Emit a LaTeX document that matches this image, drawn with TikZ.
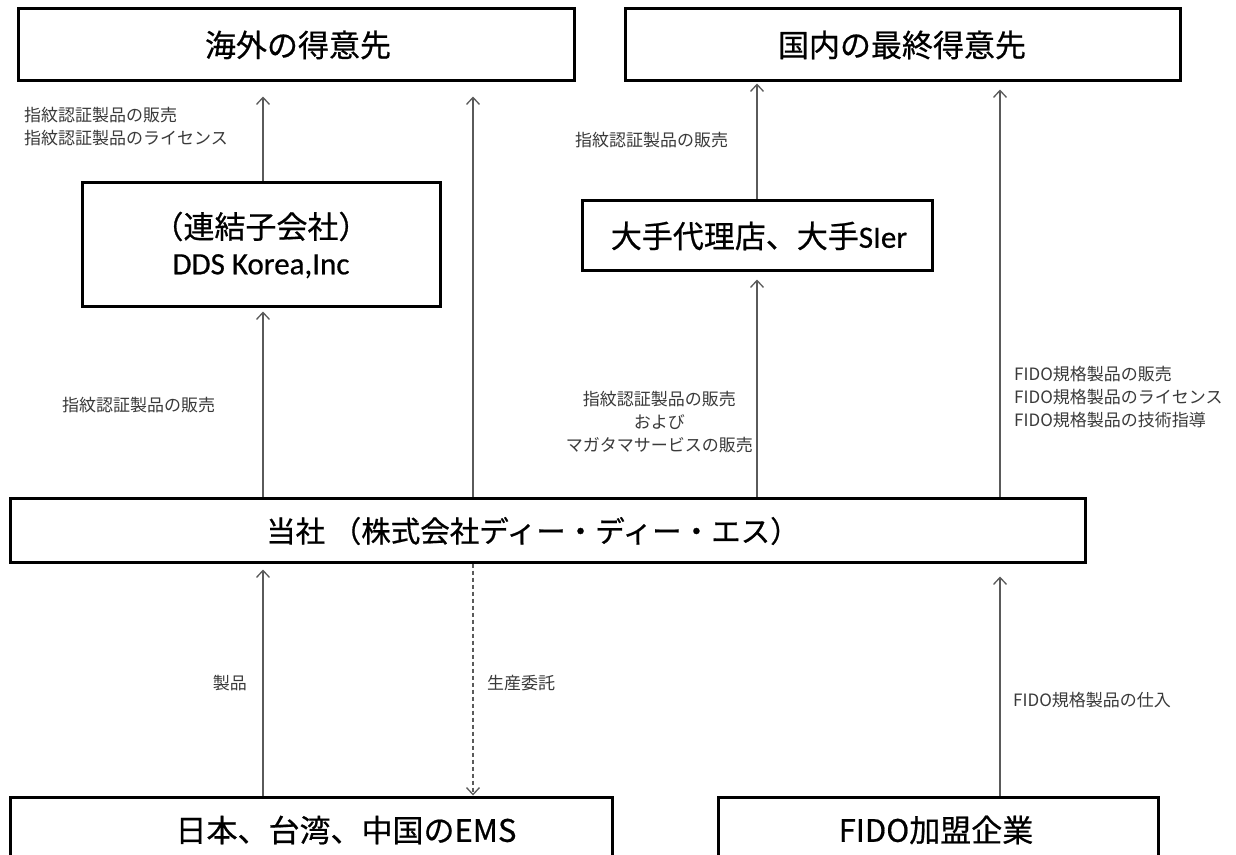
\documentclass[tikz,border=0pt]{standalone}
\usepackage{fontspec}
\setmainfont{Noto Sans CJK JP}
\newfontfamily\bigf{Noto Sans CJK JP}[FakeBold=0.6]
\newfontfamily\latf{Carlito}[FakeBold=0.6]
\usetikzlibrary{arrows.meta}
\definecolor{labelgray}{HTML}{3A3A3A}
\definecolor{linegray}{HTML}{5A5A5A}
\begin{document}
\begin{tikzpicture}[x=1pt,y=-1pt,
  box/.style={draw=black, line width=3pt, inner sep=0pt, fill=white},
  big/.style={font=\bigf\fontsize{31}{38}\selectfont, inner sep=0pt},
  lbl/.style={font=\fontsize{17}{23}\selectfont, text=labelgray, inner sep=0pt},
  arr/.style={draw=linegray, line width=1.3pt, -{Straight Barb[length=7pt,width=13pt,line width=1.3pt]}},
]
\useasboundingbox (0,0) rectangle (1236,854);
\clip (0,0) rectangle (1236,854);
\fill[white] (0,0) rectangle (1236,854);

% boxes
\node[box, minimum width=556pt, minimum height=72pt] (A) at (296,44) {};
\node[box, minimum width=555pt, minimum height=72pt] (B) at (902.5,44) {};
\node[box, minimum width=358pt, minimum height=124pt] (C) at (261,244) {};
\node[box, minimum width=350pt, minimum height=70pt] (D) at (757,235) {};
\node[box, minimum width=1075pt, minimum height=64pt] (E) at (547.5,530) {};
\node[box, minimum width=602pt, minimum height=80pt] (F) at (311,837) {};
\node[box, minimum width=440pt, minimum height=80pt] (G) at (938,837) {};

% box texts
\node[big] (tA) at (298,45) {海外の得意先};
\node[big] (tB) at (902,45) {国内の最終得意先};
\node[big, align=center] (tC) at (261,245) {（連結子会社）\\[-2pt]{\latf DDS Korea,Inc}};
\node[big] (tD) at (759,236) {大手代理店、大手{\latf SIer}};
\node[big, font=\bigf\fontsize{29.5}{38}\selectfont, anchor=west] (tE) at (266,531) {当社 （株式会社ディー・ディー・エス）};
\node[big] (tF) at (346,830) {日本、台湾、中国のEMS};
\node[big] (tG) at (936,830) {FIDO加盟企業};

% x positions
\coordinate (x1) at (263,0);
\coordinate (x2) at (473,0);
\coordinate (x3) at (757,0);
\coordinate (x4) at (1000,0);

% connectors
\draw[arr, shorten >=15pt] (C.north -| x1) -- (A.south -| x1);
\draw[arr, shorten >=15pt] (E.north -| x2) -- (A.south -| x2);
\draw[arr, shorten >=2pt] (D.north -| x3) -- (B.south -| x3);
\draw[arr, shorten >=8pt] (E.north -| x4) -- (B.south -| x4);
\draw[arr, shorten >=4pt] (E.north -| x1) -- (C.south -| x1);
\draw[arr, shorten >=8pt] (E.north -| x3) -- (D.south -| x3);
\draw[arr, shorten >=6pt] (F.north -| x1) -- (E.south -| x1);
\draw[arr, dashed, dash pattern=on 4pt off 3pt] (E.south -| x2) -- (F.north -| x2);
\draw[arr, shorten >=13pt] (G.north -| x4) -- (E.south -| x4);

% labels
\node[lbl, anchor=north west, align=left] (l1) at (24,107) {指紋認証製品の販売\\指紋認証製品のライセンス};
\node[lbl, anchor=west] (l2) at (575,140) {指紋認証製品の販売};
\node[lbl, anchor=west] (l3) at (62,405) {指紋認証製品の販売};
\node[lbl, anchor=east, align=center] (l4) at (753,422) {指紋認証製品の販売\\および\\マガタマサービスの販売};
\node[lbl, anchor=west, align=left] (l5) at (1014,397) {FIDO規格製品の販売\\FIDO規格製品のライセンス\\FIDO規格製品の技術指導};
\node[lbl, anchor=east] (l6) at (247,683) {製品};
\node[lbl, anchor=west] (l7) at (487,683) {生産委託};
\node[lbl, anchor=west] (l8) at (1013,700) {FIDO規格製品の仕入};
\end{tikzpicture}
\end{document}
